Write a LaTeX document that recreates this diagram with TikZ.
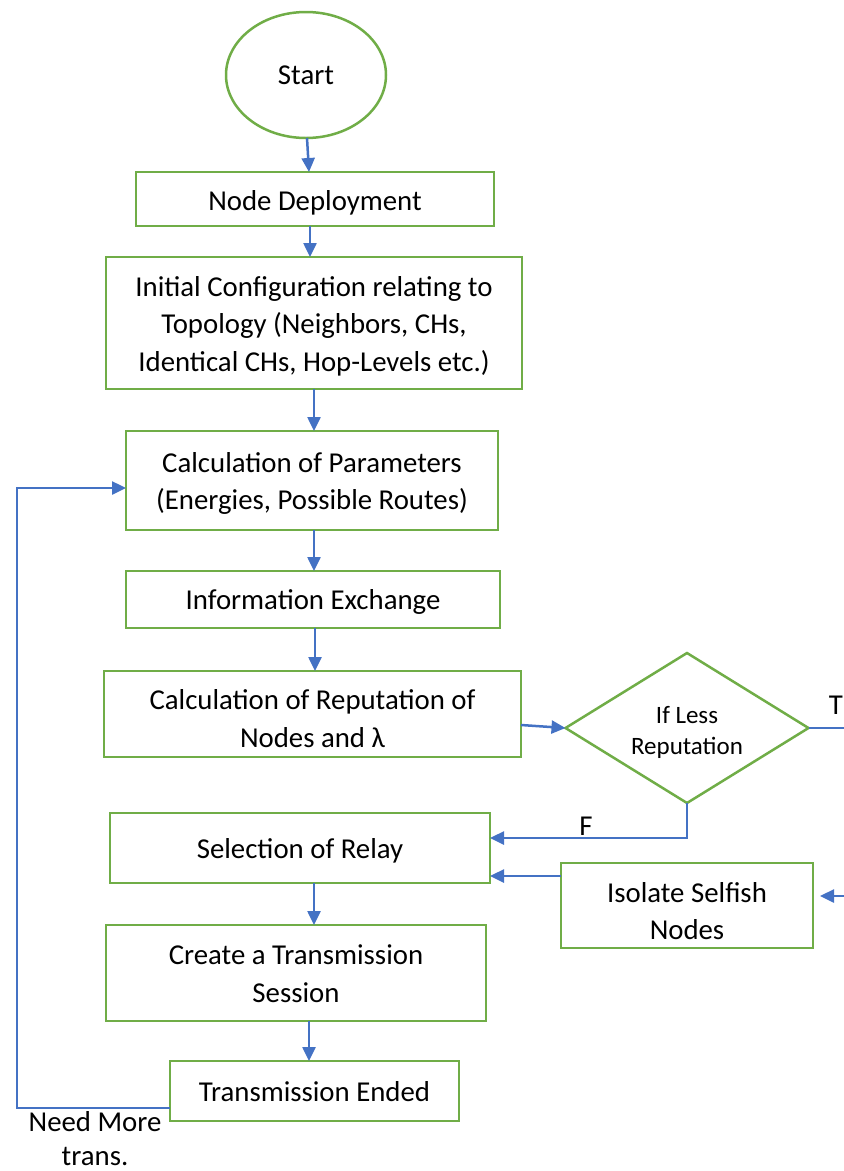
\documentclass[tikz,border=0pt]{standalone}
\usepackage{fontspec}
\setmainfont{Carlito}
\usetikzlibrary{arrows.meta,shapes.geometric}
\definecolor{gr}{HTML}{70AD47}
\definecolor{bl}{HTML}{4472C4}
% #1 = how far the text is moved down inside its node (box size unchanged)
\newcommand{\bt}[2][0pt]{\raisebox{0pt}[\dimexpr\height+#1\relax][\dimexpr\depth-#1\relax]{\begin{tabular}{@{}c@{}}#2\end{tabular}}}
\tikzset{
  box/.style={draw=gr, line width=2.5pt, rectangle, inner sep=0pt, outer sep=0pt, align=center,
    font=\fontsize{28.8}{37.5}\selectfont},
  arr/.style={draw=bl, line width=2.5pt, -{Triangle[length=14pt,width=13pt]}},
  lbl/.style={font=\fontsize{28.8}{34}\selectfont, align=center, inner sep=0pt},
}
\begin{document}
\begin{tikzpicture}[x=1pt,y=-1pt]
\useasboundingbox (0,0) rectangle (844,1171);
\node[box, ellipse, minimum width=160pt, minimum height=126pt] (start) at (306,75) {\bt[2pt]{Start}};
\node[box, minimum width=358pt, minimum height=54pt] (nd) at (315,199) {\bt[4pt]{Node Deployment}};
\node[box, minimum width=416pt, minimum height=132pt] (ic) at (314,323) {\bt[3pt]{Initial Configuration relating to\\Topology (Neighbors, CHs,\\Identical CHs, Hop-Levels etc.)}};
\node[box, minimum width=372pt, minimum height=99pt] (cp) at (312,480.5) {\bt[3pt]{Calculation of Parameters\\(Energies, Possible Routes)}};
\node[box, minimum width=374pt, minimum height=57pt] (ie) at (313,599.5) {\bt[2.5pt]{Information Exchange}};
\node[box, minimum width=417pt, minimum height=86pt] (cr) at (312.5,714) {\bt[7pt]{Calculation of Reputation of\\Nodes and λ}};
\node[draw=gr, line width=2.5pt, diamond, minimum width=243pt, minimum height=150pt, inner sep=0pt, outer sep=0pt] (dec) at (687,728) {};
\node[lbl, font=\fontsize{25}{31}\selectfont] (dect) at (687,732) {If Less\\Reputation};
\node[box, minimum width=380pt, minimum height=70pt] (sr) at (300,848) {\bt[2.5pt]{Selection of Relay}};
\node[box, minimum width=252pt, minimum height=85pt] (is) at (687,905.5) {\bt[8pt]{Isolate Selfish\\Nodes}};
\node[box, minimum width=380pt, minimum height=96pt] (ct) at (296,973) {\bt[3pt]{Create a Transmission\\Session}};
\node[box, minimum width=289pt, minimum height=60pt] (te) at (314.5,1091) {\bt[3pt]{Transmission Ended}};
\node[lbl] (tl) at (836,705) {T};
\node[lbl] (fl) at (586,826) {F};
\node[lbl] (nm) at (95,1139) {Need More\\trans.};
\coordinate (tend) at (850,728);
\coordinate (iend) at (850,896);
\coordinate (lp) at (17,1108);
\draw[arr] ([xshift=1pt]start.south) -- ([xshift=-6pt]nd.north);
\draw[arr] ([xshift=-5pt]nd.south) -- ([xshift=-4pt]ic.north);
\draw[arr] (ic.south) -- ([xshift=2pt]cp.north);
\draw[arr] ([xshift=2pt]cp.south) -- ([xshift=1pt]ie.north);
\draw[arr] ([xshift=2pt]ie.south) -- ([xshift=2.5pt]cr.north);
\draw[arr] ([yshift=-11pt]cr.east) -- (dec.west);
\draw[draw=bl, line width=2.5pt] (dec.east) -- (tend);
\draw[arr] (dec.south) |- ([yshift=10pt]sr.east);
\draw[arr] ([yshift=29.5pt]is.west) -- ([yshift=-28pt]sr.east);
\draw[arr, shorten >=7pt] (iend) -- ([yshift=9.5pt]is.east);
\draw[arr] ([xshift=14pt]sr.south) -- ([xshift=18pt]ct.north);
\draw[arr] ([xshift=13pt]ct.south) -- ([xshift=-5.5pt]te.north);
\draw[arr] ([yshift=-17pt]te.west) -- (lp) |- ([yshift=-7.5pt]cp.west);
\end{tikzpicture}
\end{document}
